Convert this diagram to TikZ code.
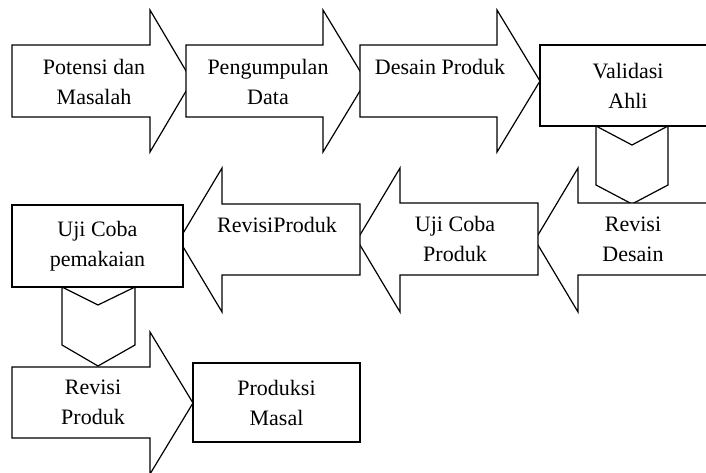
\documentclass[tikz,border=0pt]{standalone}
\usepackage{fontspec}
\setmainfont{Liberation Serif}
\tikzset{
    shp/.style={draw,fill=white,line width=1.2pt,line join=miter},
    box/.style={rectangle,draw,fill=white,line width=2.3pt},
    txt/.style={align=center,inner sep=0pt,font=\fontsize{22}{30}\selectfont}
}

\begin{document}
\begin{tikzpicture}[x=1pt,y=-1pt]
    \useasboundingbox (0,0) rectangle (706,472);
    \clip (0,0) rectangle (706,472);

    % first row, left to right
    \draw[shp] (12,45) -- (150,45) -- (150,10) -- (192,81) -- (150,152) -- (150,117) -- (12,117) -- cycle;
    \draw[shp] (186,45) -- (323,45) -- (323,10) -- (366,81) -- (323,152) -- (323,117) -- (186,117) -- cycle;
    \draw[shp] (360,45) -- (497,45) -- (497,10) -- (540,81) -- (497,152) -- (497,117) -- (360,117) -- cycle;
    \draw[shp] (596,126) -- (596,185) -- (632,204) -- (668,185) -- (668,126) -- (632,145) -- cycle;
    \node[box,minimum width=176pt,minimum height=81pt] (validasi) at (628,85.5) {};

    \node[txt] (potensi)  at (94,82)  {Potensi dan\\Masalah};
    \node[txt] (kumpul)   at (268,82) {Pengumpulan\\Data};
    \node[txt] (desain)   at (440,67) {Desain Produk};
    \node[txt]            at (validasi.center) {Validasi\\Ahli};

    % second row, right to left
    \draw[shp] (716,203) -- (578,203) -- (578,168) -- (535,240) -- (578,312) -- (578,275) -- (716,275) -- cycle;
    \draw[shp] (538,203) -- (400,203) -- (400,168) -- (357,240) -- (400,312) -- (400,275) -- (538,275) -- cycle;
    \draw[shp] (360,204) -- (222,204) -- (222,168) -- (179,240) -- (222,312) -- (222,275) -- (360,275) -- cycle;
    \draw[shp] (62,287) -- (62,345) -- (98,366) -- (135,345) -- (135,287) -- (98,305) -- cycle;
    \node[box,minimum width=171pt,minimum height=82pt] (ujipakai) at (97.5,246) {};

    \node[txt] (revdesain) at (633,239) {Revisi\\Desain};
    \node[txt] (ujiproduk) at (455,239) {Uji Coba\\Produk};
    \node[txt] (revproduk) at (277,225) {RevisiProduk};
    \node[txt]             at (ujipakai.center) {Uji Coba\\pemakaian};

    % third row
    \draw[shp] (12,367) -- (150,367) -- (150,332) -- (193,403) -- (150,474) -- (150,438) -- (12,438) -- cycle;
    \node[box,minimum width=167pt,minimum height=79pt] (masal) at (276.5,402.5) {};

    \node[txt] (revisi) at (93,402) {Revisi\\Produk};
    \node[txt]          at (masal.center) {Produksi\\Masal};
\end{tikzpicture}
\end{document}
